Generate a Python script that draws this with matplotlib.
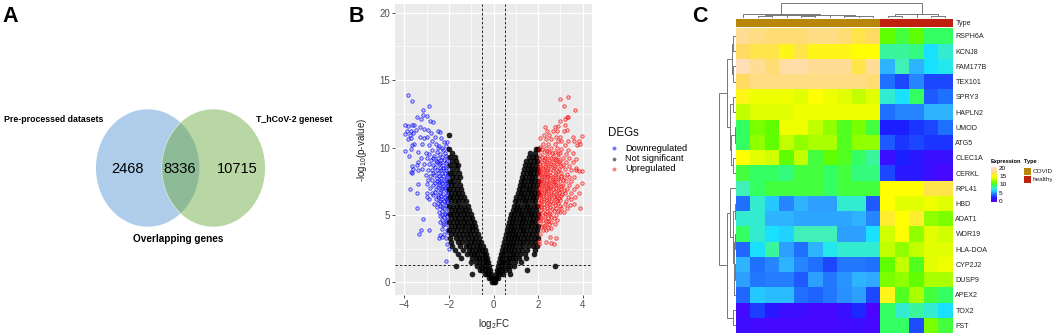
"""plot.py - venn, volcano and heatmap panels"""
import numpy as np
import matplotlib
matplotlib.use("Agg")
import matplotlib.pyplot as plt
from matplotlib.colors import LinearSegmentedColormap
from matplotlib.patches import Ellipse, Rectangle

plt.rcParams["font.family"] = ["Liberation Sans", "DejaVu Sans"]
plt.rcParams["mathtext.default"] = "regular"

W, H = 1052, 335

# panel A
venn_counts = ["2468", "8336", "10715"]
venn_labels = ["Pre-processed datasets", "T_hCoV-2 geneset", "Overlapping genes"]

# panel B
down_pts = [(-3.85,13.9),(-3.65,13.45),(-3.15,12.8),(-2.9,13.1),(-3.45,12.3),(-3.15,12.4),(-3.25,12.15),(-3.0,12.35),
    (-2.85,12.0),(-2.7,11.9),(-3.65,11.7),(-3.55,11.7),(-3.98,11.7),(-3.85,11.6),(-3.9,11.2),(-3.7,11.2),(-3.5,11.3),
    (-3.3,11.5),(-3.1,11.4),(-3.95,11.0),(-3.75,10.95),(-3.6,11.1),(-2.95,11.3),(-2.8,11.1),(-2.5,11.2),(-2.4,11.15),
    (-3.7,10.7),(-3.85,10.6),(-3.3,10.8),(-3.1,10.7),(-3.0,10.75),(-2.75,10.5),(-2.2,10.4),(-2.1,10.4),(-2.6,10.3),
    (-3.65,10.2),(-3.55,10.3),(-3.2,10.3),(-2.9,10.2),(-2.45,10.1),(-2.3,10.0),(-3.95,9.75),(-3.7,9.9),(-3.4,9.7),
    (-3.05,9.6),(-2.75,9.8),(-2.55,9.7),(-2.25,9.8),(-2.05,9.9),(-2.9,9.5),(-2.65,9.4),(-2.4,9.5),(-2.15,9.4),
    (-3.8,9.35),(-3.25,9.2),(-3.0,9.2),(-2.8,9.1),(-2.6,9.0),(-2.35,9.1),(-2.1,9.0),(-2.02,9.3),(-3.65,8.6),(-3.4,8.9),
    (-3.45,8.7),(-3.1,8.8),(-2.9,8.75),(-2.7,8.7),(-2.45,8.75),(-2.25,8.7),(-2.05,8.6),(-3.7,8.2),(-3.6,8.4),(-3.4,8.3),
    (-3.2,8.4),(-2.95,8.3),(-2.75,8.35),(-2.55,8.3),(-2.35,8.3),(-2.15,8.3),(-2.05,8.1),(-3.65,8.1),(-3.05,8.0),(-2.85,7.9),
    (-2.65,7.95),(-2.45,7.9),(-2.25,7.9),(-2.1,7.8),(-2.95,7.6),(-2.75,7.6),(-2.55,7.5),(-2.35,7.55),(-2.18,7.5),(-2.03,7.45),
    (-3.4,7.3),(-3.0,7.3),(-2.7,7.25),(-2.45,7.2),(-2.25,7.15),(-2.08,7.15),(-3.75,6.9),(-2.85,7.0),(-2.6,6.9),(-2.35,6.85),
    (-2.15,6.85),(-2.02,6.8),(-3.45,6.6),(-3.0,6.6),(-2.75,6.6),(-2.5,6.5),(-2.25,6.55),(-2.1,6.5),(-3.0,6.35),(-2.9,6.2),
    (-2.6,6.2),(-2.35,6.2),(-2.15,6.15),(-2.03,6.25),(-2.5,5.9),(-2.3,5.85),(-2.08,5.9),(-3.45,5.55),(-2.55,5.6),(-2.2,5.55),
    (-2.05,5.5),(-2.45,5.2),(-2.12,5.2),(-2.02,5.1),(-2.4,4.9),(-2.2,4.85),(-3.15,4.7),(-2.3,4.6),(-2.08,4.6),(-2.2,4.3),
    (-2.05,4.25),(-3.25,3.85),(-2.9,3.9),(-2.3,3.95),(-2.1,3.9),(-3.35,3.55),(-2.4,3.5),(-2.3,3.35),(-2.45,3.3),(-2.15,3.3),
    (-2.1,2.85),(-2.0,2.45),(-2.12,1.6),
    (-2.62,10.75),(-2.35,10.7),(-2.12,10.15),(-2.5,9.95),(-2.18,9.6),(-2.32,9.3),(-2.5,9.2),(-2.22,9.1),(-2.72,9.25),
    (-2.55,8.9),(-2.38,8.85),(-2.12,8.85),(-2.28,8.5),(-2.42,8.5),(-2.62,8.55),(-2.12,8.45),(-2.3,8.1),(-2.5,8.12),(-2.17,8.08),
    (-2.72,8.12),(-2.03,7.95),(-2.36,7.75),(-2.55,7.72),(-2.15,7.68),(-2.3,7.4),(-2.45,7.42),(-2.12,7.35),(-2.62,7.4),
    (-2.02,7.2),(-2.32,7.02),(-2.48,7.05),(-2.17,7.0),(-2.05,6.65),(-2.4,6.7),(-2.62,6.72),(-2.18,6.35),(-2.35,6.4),(-2.5,6.3),
    (-2.08,6.05),(-2.22,6.0),(-2.4,6.02),(-2.7,6.45),(-2.12,5.72),(-2.3,5.6),(-2.42,5.7),(-2.65,5.8),(-2.3,5.3),(-2.18,5.05),
    (-2.32,5.02),(-2.08,4.95),(-2.15,4.55),(-2.28,4.25),(-2.42,4.45),(-2.02,3.75),(-2.2,3.6)]

up_pts = [(3.35,13.75),(3.0,13.6),(3.15,13.1),(3.65,12.8),(3.3,12.3),(3.2,12.1),(3.35,12.25),(3.0,11.95),(3.2,11.7),
    (2.3,11.55),(2.75,11.5),(2.9,11.6),(3.15,11.2),(3.3,11.3),(2.4,11.2),(2.65,11.2),(2.85,11.2),(3.95,10.85),(2.25,10.9),
    (2.5,10.9),(2.8,10.8),(3.0,10.75),(3.55,10.8),(3.85,10.5),(2.1,10.7),(2.35,10.6),(2.6,10.6),(2.9,10.5),(3.05,10.5),
    (3.35,10.5),(3.6,10.45),(2.2,10.3),(2.45,10.3),(2.75,10.25),(3.2,10.2),(3.75,10.2),(3.9,10.3),(2.1,10.05),(2.35,10.0),
    (2.6,10.0),(2.85,9.95),(3.05,9.9),(3.35,9.85),(2.02,9.8),(2.25,9.7),(2.5,9.7),(2.75,9.65),(3.0,9.6),(3.25,9.5),(3.55,9.6),
    (2.1,9.45),(2.4,9.4),(2.65,9.35),(2.9,9.3),(3.1,9.25),(3.4,9.2),(3.7,9.15),(2.03,9.15),(2.25,9.1),(2.5,9.1),(2.75,9.05),
    (3.0,9.0),(3.25,8.95),(3.55,8.9),(2.1,8.8),(2.35,8.8),(2.6,8.75),(2.85,8.75),(3.1,8.7),(3.4,8.65),(3.7,8.5),(2.02,8.5),
    (2.22,8.5),(2.45,8.5),(2.7,8.45),(2.95,8.4),(3.2,8.4),(3.5,8.35),(3.85,8.25),(3.98,8.25),(3.72,8.3),(2.12,8.2),(2.35,8.2),
    (2.55,8.15),(2.8,8.1),(3.05,8.1),(3.3,8.05),(2.03,7.95),(2.25,7.9),(2.45,7.9),(2.65,7.85),(2.9,7.85),(3.15,7.85),(3.4,7.85),
    (3.6,7.85),(2.12,7.65),(2.35,7.6),(2.55,7.6),(2.78,7.55),(3.0,7.55),(3.25,7.5),(3.5,7.55),(3.95,7.4),(2.02,7.4),(2.22,7.35),
    (2.45,7.3),(2.68,7.3),(2.9,7.25),(3.12,7.25),(3.4,7.2),(3.75,7.15),(2.12,7.1),(2.35,7.05),(2.55,7.0),(2.8,7.0),(3.02,6.95),
    (3.3,6.9),(3.6,6.95),(2.03,6.8),(2.25,6.8),(2.45,6.75),(2.7,6.7),(2.95,6.7),(3.2,6.65),(3.5,6.6),(3.85,6.6),(2.12,6.5),
    (2.35,6.5),(2.6,6.45),(2.85,6.4),(3.05,6.4),(3.35,6.35),(3.65,6.3),(2.02,6.25),(2.25,6.2),(2.5,6.2),(2.75,6.15),(3.0,6.1),
    (3.25,6.05),(3.5,6.15),(2.12,5.95),(2.4,5.9),(2.65,5.9),(2.9,5.85),(3.2,5.8),(3.45,5.75),(3.6,5.8),(2.03,5.7),(2.28,5.6),
    (2.55,5.6),(2.8,5.55),(3.05,5.55),(3.3,5.5),(3.9,5.5),(2.15,5.35),(2.4,5.3),(2.7,5.3),(3.0,5.2),(3.15,5.2),(2.05,5.1),
    (2.3,5.05),(2.55,5.05),(2.8,5.0),(2.15,4.8),(2.45,4.8),(2.7,4.75),(2.35,4.55),(2.6,4.5),(2.85,4.6),(2.1,4.4),(2.5,4.3),
    (2.75,4.35),(2.25,4.15),(2.45,4.0),(2.6,4.05),(2.2,3.9),(2.35,3.9),(2.1,3.6),(2.55,3.35),(2.8,3.3),(2.05,3.05),(2.35,3.0),
    (2.05,2.85),(2.6,2.95),(2.7,2.85),
    (2.16,9.9),(2.38,9.75),(2.62,9.62),(2.88,9.62),(2.16,9.3),(2.32,9.25),(2.58,9.2),(2.82,9.15),(2.18,8.95),(2.42,8.95),(2.68,8.9),
    (2.92,8.95),(2.08,8.65),(2.3,8.65),(2.52,8.62),(2.78,8.6),(3.02,8.62),(2.02,8.25),(2.2,8.3),(2.42,8.32),(2.65,8.3),(2.88,8.25),
    (2.1,8.02),(2.32,8.02),(2.55,8.0),(2.75,7.95),(3.02,7.92),(2.18,7.78),(2.42,7.78),(2.65,7.7),(2.88,7.68),(2.08,7.52),(2.28,7.5),
    (2.48,7.48),(2.7,7.45),(3.12,7.62),(2.16,7.25),(2.35,7.22),(2.58,7.18),(2.8,7.2),(3.02,7.12),(2.05,7.0),(2.25,6.95),(2.45,6.92),
    (2.68,6.9),(2.9,6.88),(3.15,6.82),(2.14,6.68),(2.35,6.65),(2.58,6.6),(2.82,6.55),(3.08,6.55),(2.05,6.45),(2.22,6.38),(2.48,6.35),
    (2.72,6.32),(2.95,6.25),(2.15,6.12),(2.35,6.08),(2.6,6.05),(2.85,6.02),(2.05,5.92),(2.25,5.82),(2.5,5.78),(2.75,5.72),(3.0,5.7),
    (2.12,5.62),(2.4,5.5),(2.62,5.42),(2.88,5.32),(2.22,5.22),(2.48,5.18),(2.08,4.95),(2.32,4.9),(2.6,4.85),(2.22,4.62),(2.45,4.58),
    (2.05,4.6),(2.32,4.25),(2.15,4.1)]

ns_rows = [
    (0.05, [-.05,.0,.05]),
    (0.3, [-.2,-.13,-.06,.06,.13,.2]),
    (0.6, [-.98,-.4,-.3,-.2,-.12,.12,.2,.3,.42,.75]),
    (0.9, [-.62,-.5,-.38,-.26,-.16,.15,.26,.38,.5,.68,1.5]),
    (1.2, [-1.7,-.72,-.58,-.45,-.32,-.2,.2,.32,.45,.6,.74,.9,2.75]),
    (1.5, [-1.0,-.78,-.62,-.48,-.34,-.24,.24,.36,.48,.62,.76,.95,1.25]),
    (1.8, [-1.45,-.95,-.8,-.66,-.52,-.38,-.28,.28,.4,.54,.68,.82,.98,1.15,1.45]),
    (2.1, [-1.6,-1.2,-1.02,-.86,-.72,-.58,-.44,-.32,.32,.44,.58,.72,.86,1.0,1.18,1.4,1.8]),
    (2.4, [-1.75,-1.35,-1.12,-.96,-.8,-.66,-.52,-.38,.36,.5,.64,.78,.92,1.08,1.26,1.5,1.85]),
    (2.7, [-1.85,-1.5,-1.25,-1.08,-.92,-.76,-.6,-.46,.42,.56,.7,.84,.98,1.14,1.32,1.55,1.78,1.95]),
    (3.0, [-1.9,-1.6,-1.4,-1.2,-1.02,-.86,-.7,-.54,.46,.6,.74,.88,1.02,1.18,1.34,1.5,1.68,1.85]),
    (3.3, [-1.95,-1.7,-1.5,-1.32,-1.14,-.98,-.82,-.64,.5,.64,.78,.92,1.06,1.2,1.36,1.52,1.68,1.84,1.98]),
    (3.6, [-1.9,-1.72,-1.55,-1.38,-1.2,-1.04,-.88,-.7,.55,.69,.83,.97,1.12,1.27,1.42,1.58,1.74,1.9]),
    (3.9, [-1.98,-1.8,-1.62,-1.45,-1.28,-1.12,-.95,-.77,.6,.74,.88,1.03,1.18,1.33,1.48,1.64,1.8,1.96]),
    (4.2, [-1.92,-1.75,-1.58,-1.42,-1.26,-1.1,-.95,-.82,.65,.79,.93,1.08,1.23,1.38,1.53,1.68,1.84,1.98]),
    (4.5, [-1.98,-1.82,-1.66,-1.5,-1.34,-1.18,-1.03,-.88,.69,.83,.98,1.13,1.28,1.43,1.58,1.73,1.88]),
    (4.8, [-1.9,-1.74,-1.58,-1.42,-1.26,-1.1,-.95,.72,.87,1.02,1.17,1.32,1.47,1.62,1.77,1.93]),
    (5.1, [-1.97,-1.82,-1.66,-1.5,-1.34,-1.18,-1.02,.8,.94,1.08,1.23,1.38,1.53,1.68,1.83,1.98]),
    (5.4, [-1.9,-1.74,-1.58,-1.42,-1.26,-1.1,.86,1.0,1.14,1.29,1.44,1.59,1.74,1.89]),
    (5.7, [-1.98,-1.82,-1.66,-1.5,-1.33,-1.16,.93,1.07,1.21,1.36,1.51,1.66,1.81,1.96]),
    (6.0, [-1.9,-1.74,-1.58,-1.42,-1.25,.98,1.12,1.26,1.41,1.56,1.71,1.86]),
    (6.3, [-1.97,-1.82,-1.66,-1.5,-1.32,1.03,1.17,1.32,1.47,1.62,1.77,1.92]),
    (6.6, [-1.9,-1.74,-1.58,-1.4,1.08,1.23,1.38,1.53,1.68,1.83,1.98]),
    (6.9, [-1.98,-1.82,-1.65,-1.45,1.14,1.29,1.44,1.59,1.74,1.89]),
    (7.2, [-1.9,-1.72,-1.52,1.18,1.33,1.48,1.63,1.78,1.93]),
    (7.5, [-1.97,-1.8,-1.6,1.23,1.38,1.53,1.68,1.83,1.98]),
    (7.8, [-1.88,-1.68,-1.5,1.28,1.43,1.58,1.73,1.88]),
    (8.1, [-1.95,-1.76,-1.56,1.34,1.49,1.64,1.79,1.94]),
    (8.4, [-1.85,-1.65,1.38,1.53,1.68,1.83,1.97]),
    (8.7, [-1.95,-1.75,-1.6,1.42,1.58,1.74,1.9]),
    (9.0, [-1.85,-1.68,1.47,1.63,1.8,1.95]),
    (9.3, [-1.95,-1.75,1.6,1.76,1.92]),
    (9.6, [-1.87,1.62,1.85]),
    (9.9, [-1.98,1.92,1.98]),
    (10.9, [-2.0]),
]
x_ticks = [-4, -2, 0, 2, 4]
y_ticks = [0, 5, 10, 15, 20]
fc_cut = [-0.5, 0.5]
p_cut = 1.3

# panel C
genes = ["RSPH6A", "KCNJ8", "FAM177B", "TEX101", "SPRY3", "HAPLN2", "UMOD", "ATG5", "CLEC1A", "CERKL",
         "RPL41", "HBD", "ADAT1", "WDR19", "HLA-DOA", "CYP2J2", "DUSP9", "APEX2", "TOX2", "FST"]
expr = [
    [18.5,18,17.5,17.5,17.5,18,18,17.5,16.5,17, 11,10,11,9.5,9.5],
    [17,16.5,16.5,15.5,16.5,15.5,15.5,15.5,15,15, 8.5,8.5,9,6.5,7.5],
    [19.5,18.5,17.5,19,19,18.5,18.5,18.5,16.5,18.5, 5.5,8,5.5,6.5,7],
    [17,18,18,18,18,18,18,18,18,17.5, 4,3,4.5,3,3],
    [15.5,14.5,14.5,14.5,14,15,14.5,14,13,14, 7.5,6.5,9.5,3.5,4],
    [13,14,14,14,14.5,14.5,14.5,14.5,14.5,14.5, 4,4.5,4.5,5.5,5.5],
    [9.5,11.5,11,14.5,14.5,13,12,10.5,11.5,10, 2,2,2.5,3,4],
    [9.5,12,11,13,12,12.5,12.5,10.5,12,12, 3.5,2.5,3,2.5,2.5],
    [15,14,13.5,11,13,10,11,10.5,9.5,8.5, 1,2,1.5,1,1],
    [10,9.5,9.5,9,10,10,9.5,10,9,9, 3,1.5,1.5,0.8,0.5],
    [8,9.5,10,10,10,10,9.5,10,10,10, 15,15,15,16.5,16.5],
    [4,7.5,6,4.5,5.5,5,5,7.5,7.5,3.5, 15,14,14,14.5,14],
    [7.5,7.5,5.5,5.5,5.2,5.2,5.2,5.2,5.5,4.5, 16,15,16,12,11.5],
    [9.5,7.5,6.5,6.2,8,8,8,5,5,6.5, 13.5,15,12,14,13.5],
    [3.8,6.5,8.5,5,4,5.5,7,7.5,7.5,7.5, 13,12,13,14,14],
    [5.5,4,4.5,5.5,4.5,4,3,4.2,4.2,4, 11,13,10.5,14,14.5],
    [5,4.2,4.3,4.3,3.5,5,4.2,4.8,5.5,5.3, 11.5,12,11,12.5,12.5],
    [3.8,6,5.7,5.7,4,3.7,4.2,4.7,5,3, 15.5,10.5,12.5,10,9.5],
    [0.7,2.8,1.5,0.8,0.8,0.5,0.5,1,2.2,0.3, 9.5,7.5,8.5,7.5,6.5],
    [0.8,0.7,0.5,0.5,0.5,0.5,0.5,0.7,0.8,0.5, 9.5,9.5,3.2,11.5,10],
]
type_labels = ["COVID", "healthy"]
type_counts = [10, 5]
type_colors = ["#b8860b", "#c0210f"]
# dendrograms: (height, left, right), ints are leaves
col_tree = (15.5,
    (4.4, 0, (3.4,
        (2.8, (1.8, 1, 2), (3.0, 3, (2.6, (1.6, 4, 5), 6))),
        (2.2, 7, (1.6, 8, 9)))),
    (4.4, (3.6, (1.8, 10, 11), 12), (1.6, 13, 14)))
row_tree = (17,
    (9.5, (4, (3, 0, 1), (3, 2, 3)),
          (6, (3, 4, 5), (5, (1.5, 6, 7), (3, 8, 9)))),
    (9.5, (6, 10, (3, (1.5, 11, 12), (2.5, (1.5, 13, 14), (2.5, (1.5, 15, 16), 17)))),
          (3, 18, 19)))

heat_cmap = LinearSegmentedColormap.from_list("heat", [
    (0, "#5400ff"), (0.1, "#1a20ff"), (0.2, "#2070ff"), (0.27, "#30b0ff"), (0.33, "#18e4ff"), (0.4, "#40f0b8"),
    (0.47, "#30ff68"), (0.55, "#60ff00"), (0.65, "#c0ff00"), (0.75, "#ffff00"), (0.85, "#ffdc60"), (1, "#ffdec8")])


def px_axes(fig, x0, y0, x1, y1):
    return fig.add_axes([x0 / W, 1 - y1 / H, (x1 - x0) / W, (y1 - y0) / H])


def draw_tree(ax, node, horizontal):
    # returns (leaf position, height) of the node
    if isinstance(node, int):
        return node + 0.5, 0
    h, left, right = node
    p1, h1 = draw_tree(ax, left, horizontal)
    p2, h2 = draw_tree(ax, right, horizontal)
    pos, hts = [p1, p1, p2, p2], [h1, h, h, h2]
    if horizontal:
        ax.plot(pos, hts, color="#777777", lw=0.7, solid_joinstyle="miter")
    else:
        ax.plot(hts, pos, color="#777777", lw=0.7, solid_joinstyle="miter")
    return (p1 + p2) / 2, h


def venn(fig):
    ax = px_axes(fig, 0, 0, 340, 260)
    ax.set_xlim(0, 340); ax.set_ylim(260, 0); ax.axis("off")
    left = Ellipse((147.7, 168), 103.4, 117.4, fc="#aecdeb", ec="none")
    right = Ellipse((213.4, 168), 103.4, 117.4, fc="#b9d7a5", ec="none")
    ax.add_patch(left); ax.add_patch(right)
    both = Ellipse((213.4, 168), 103.4, 117.4, fc="#8ebb97", ec="#d8e8d8", lw=0.6)
    ax.add_patch(both)
    both.set_clip_path(Ellipse((147.7, 168), 103.4, 117.4, transform=ax.transData))
    for s, x in zip(venn_counts, [128, 180, 237]):
        ax.text(x, 169, s, fontsize=10.5, ha="center", va="center", color="black")
    ax.text(3.5, 119, venn_labels[0], fontsize=6.3, fontweight="bold", va="center")
    ax.text(256, 119, venn_labels[1], fontsize=6.3, fontweight="bold", va="center")
    ax.text(178.5, 239, venn_labels[2], fontsize=7.2, fontweight="bold", va="center", ha="center")


def volcano(fig):
    ax = px_axes(fig, 395, 4, 592, 295)
    ax.set_facecolor("#ebebeb")
    ax.set_xlim(-4.42, 4.42); ax.set_ylim(-0.94, 20.65)
    ax.set_xticks(x_ticks); ax.set_yticks(y_ticks)
    ax.set_xticks([-3, -1, 1, 3], minor=True); ax.set_yticks([2.5, 7.5, 12.5, 17.5], minor=True)
    ax.grid(which="major", color="white", lw=0.9); ax.grid(which="minor", color="white", lw=0.45)
    ax.set_axisbelow(True)
    for s in ax.spines.values():
        s.set_visible(False)
    ax.tick_params(which="minor", length=0)
    ax.tick_params(which="major", length=2.2, width=0.6, color="#333333", labelcolor="#4d4d4d", labelsize=7, pad=1.5)

    ns_x = [x for _, xs in ns_rows for x in xs]
    ns_y = [y for y, xs in ns_rows for _ in xs]
    dx, dy = zip(*down_pts)
    ux, uy = zip(*up_pts)
    ax.scatter(dx, dy, s=6, fc=(0, 0, 1, 0.15), ec=(0, 0, 1, 0.75), lw=0.6, label="Downregulated")
    ax.scatter(ns_x, ns_y, s=13, fc=(0, 0, 0, 0.85), ec=(0, 0, 0, 0.75), lw=0.5, label="Not significant")
    ax.scatter(ux, uy, s=6, fc=(1, 0, 0, 0.15), ec=(1, 0, 0, 0.75), lw=0.6, label="Upregulated")
    for x in fc_cut:
        ax.axvline(x, color="#222222", lw=0.7, ls=(0, (2.5, 2)))
    ax.axhline(p_cut, color="#222222", lw=0.7, ls=(0, (2.5, 2)))
    ax.set_xlabel("log$_2$FC", fontsize=7, labelpad=5, color="#222222")
    ax.set_ylabel("-log$_{10}$(p-value)", fontsize=7, labelpad=7, color="#222222")

    leg = ax.legend(loc="upper left", bbox_to_anchor=(608 / W, 1 - 127 / H), bbox_transform=fig.transFigure,
                    frameon=False, fontsize=6.7, title="DEGs", title_fontsize=8.3, alignment="left",
                    labelspacing=0.12, handletextpad=0.55, handlelength=1.3, borderpad=0, borderaxespad=0)
    leg.get_title().set_color("#111111")
    leg._legend_box.sep = 3.5
    for h, c in zip(leg.legend_handles, [(0.45, 0.45, 1), (0.45, 0.45, 0.45), (1, 0.5, 0.5)]):
        h.set_facecolor(c); h.set_edgecolor(c); h.set_sizes([5])


def heatmap(fig):
    data = np.array(expr)
    n_rows, n_cols = data.shape
    ax = px_axes(fig, 736, 28.3, 952.7, 333)
    ax.pcolormesh(data, cmap=heat_cmap, vmin=0, vmax=20)
    ax.set_ylim(n_rows, 0)
    ax.set_xticks([])
    ax.yaxis.tick_right()
    ax.set_yticks(np.arange(n_rows) + 0.5, genes, fontsize=5.1, color="#222222")
    ax.tick_params(axis="y", length=0, pad=2)
    for s in ax.spines.values():
        s.set_visible(False)

    bar = px_axes(fig, 736, 19, 952.7, 26.7)
    bar.set_xlim(0, n_cols); bar.set_ylim(0, 1); bar.set_xticks([])
    start = 0
    for n, c in zip(type_counts, type_colors):
        bar.add_patch(Rectangle((start, 0), n, 1, fc=c, ec="none"))
        start += n
    bar.yaxis.tick_right()
    bar.set_yticks([0.5], ["Type"], fontsize=5.1, color="#222222")
    bar.tick_params(axis="y", length=0, pad=2)
    for s in bar.spines.values():
        s.set_visible(False)

    top = px_axes(fig, 736, 0, 952.7, 18)
    top.set_xlim(0, n_cols); top.set_ylim(0, 18); top.axis("off")
    draw_tree(top, col_tree, True)

    side = px_axes(fig, 716, 28.3, 736, 333)
    side.set_xlim(20, 0); side.set_ylim(n_rows, 0); side.axis("off")
    draw_tree(side, row_tree, False)

    # legends
    fig.text(991 / W, 1 - 162 / H, "Expression", fontsize=4.1, fontweight="bold", va="center")
    fig.text(1024 / W, 1 - 162 / H, "Type", fontsize=4.1, fontweight="bold", va="center")
    cb = px_axes(fig, 991, 167, 997, 202)
    cb.imshow(np.linspace(20.5, -0.5, 64)[:, None], cmap=heat_cmap, vmin=0, vmax=20, aspect="auto",
              extent=[0, 1, -0.8, 20.8])
    cb.set_xticks([]); cb.yaxis.tick_right()
    cb.set_yticks([0, 5, 10, 15, 20])
    cb.tick_params(axis="y", length=0, pad=1.5, labelsize=4.6)
    for s in cb.spines.values():
        s.set_visible(False)
    key = px_axes(fig, 1024, 167, 1052, 183)
    key.set_xlim(0, 28); key.set_ylim(16, 0); key.axis("off")
    for i, (lab, c) in enumerate(zip(type_labels, type_colors)):
        key.add_patch(Rectangle((0, 1 + i * 7.5), 7, 7, fc=c, ec="none"))
        key.text(8.5, 4.5 + i * 7.5, lab, fontsize=4.6, va="center", color="#222222")


def main():
    fig = plt.figure(figsize=(W / 100, H / 100), dpi=100)
    venn(fig)
    volcano(fig)
    heatmap(fig)
    for s, x, y in [("A", 2, 16), ("B", 349, 17), ("C", 692, 16)]:
        fig.text(x / W, 1 - y / H, s, fontsize=15.5, fontweight="bold", va="center")
    fig.savefig("out.png", dpi=100)
    plt.close(fig)


if __name__ == "__main__":
    main()
